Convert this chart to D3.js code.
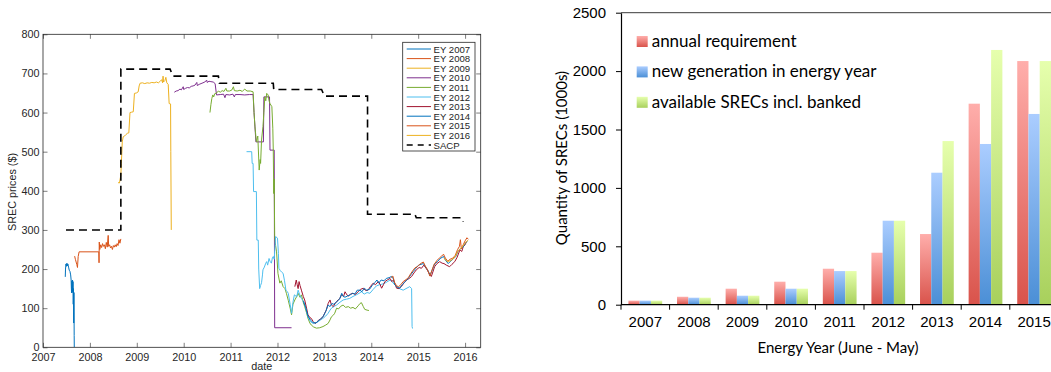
<!DOCTYPE html>
<html>
<head>
<meta charset="utf-8">
<script src="https://cdn.jsdelivr.net/npm/d3@7"></script>
<style>
  body { margin: 0; background: #fff; }
  svg { display: block; }
</style>
</head>
<body>
<svg id="chart" width="1051" height="372"></svg>
<script>
// ---- left panel: SREC prices per energy year, [decimal year, $] ----
const ey2007 = [[2007.475,180],[2007.48,200],[2007.49,213],[2007.50,207],[2007.51,215],[2007.52,208],[2007.53,213],[2007.545,205],[2007.56,197],[2007.575,194],[2007.59,185],[2007.60,172],[2007.605,150],[2007.61,139],[2007.615,170],[2007.625,145],[2007.63,172],[2007.635,140],[2007.64,168],[2007.645,110],[2007.65,150],[2007.655,62],[2007.66,140],[2007.665,30],[2007.667,0]];
const ey2008 = [[2007.675,233],[2007.69,225],[2007.72,212],[2007.735,204],[2007.75,232],[2007.77,244],[2008.19,244],[2008.195,216],[2008.20,269],[2008.21,250],[2008.23,262],[2008.25,255],[2008.27,265],[2008.29,258],[2008.31,262],[2008.33,252],[2008.35,268],[2008.37,256],[2008.39,286],[2008.40,258],[2008.42,262],[2008.44,254],[2008.46,258],[2008.48,250],[2008.50,260],[2008.52,256],[2008.54,262],[2008.56,257],[2008.58,265],[2008.60,260],[2008.62,275],[2008.64,266],[2008.66,277]];
const ey2009 = [[2008.60,421],[2008.63,420],[2008.66,440],[2008.67,470],[2008.68,495],[2008.69,525],[2008.71,538],[2008.74,540],[2008.77,544],[2008.80,547],[2008.83,548],[2008.855,600],[2008.89,601],[2008.925,602],[2008.95,649],[2008.99,650],[2009.03,653],[2009.05,668],[2009.07,675],[2009.12,676],[2009.17,674],[2009.22,676],[2009.27,675],[2009.32,677],[2009.37,676],[2009.42,678],[2009.46,676],[2009.50,680],[2009.53,684],[2009.55,676],[2009.56,693],[2009.57,678],[2009.60,682],[2009.62,690],[2009.64,676],[2009.67,672],[2009.69,623],[2009.72,622],[2009.725,500],[2009.735,300]];
const ey2010 = [[2009.80,652],[2009.84,655],[2009.88,656],[2009.92,660],[2009.95,658],[2009.99,666],[2010.00,659],[2010.04,662],[2010.08,664],[2010.12,663],[2010.16,667],[2010.20,668],[2010.24,670],[2010.28,677],[2010.29,669],[2010.33,672],[2010.37,674],[2010.41,676],[2010.45,678],[2010.49,683],[2010.50,677],[2010.54,680],[2010.58,679],[2010.63,678],[2010.67,674],[2010.70,645],[2010.78,646],[2010.85,647],[2010.88,638],[2010.90,646],[2010.98,645],[2011.05,647],[2011.08,640],[2011.10,646],[2011.20,646],[2011.30,645],[2011.40,646],[2011.48,646],[2011.50,600],[2011.54,525],[2011.70,525],[2011.71,640],[2011.83,640],[2011.84,504],[2011.93,504],[2011.94,50],[2012.30,50]];
const ey2011 = [[2010.56,600],[2010.58,620],[2010.60,636],[2010.62,645],[2010.64,640],[2010.66,648],[2010.70,650],[2010.74,655],[2010.78,652],[2010.82,656],[2010.86,654],[2010.90,662],[2010.92,655],[2010.98,655],[2011.03,658],[2011.06,666],[2011.08,656],[2011.14,655],[2011.20,657],[2011.25,654],[2011.30,660],[2011.35,655],[2011.42,655],[2011.48,653],[2011.50,600],[2011.52,564],[2011.55,525],[2011.58,540],[2011.61,453],[2011.63,480],[2011.64,470],[2011.66,530],[2011.69,564],[2011.71,600],[2011.73,640],[2011.75,630],[2011.77,649],[2011.80,645],[2011.82,630],[2011.84,623],[2011.88,615],[2011.90,560],[2011.91,504],[2011.92,393],[2011.93,430],[2011.94,283],[2011.96,260],[2011.98,244],[2012.01,189],[2012.05,164],[2012.08,170],[2012.12,155],[2012.16,150],[2012.19,138],[2012.23,120],[2012.27,100],[2012.30,83],[2012.33,110],[2012.37,121],[2012.41,130],[2012.44,138],[2012.48,128],[2012.51,134],[2012.55,115],[2012.58,104],[2012.62,88],[2012.65,74],[2012.69,62],[2012.72,57],[2012.77,52],[2012.83,49],[2012.90,50],[2012.97,53],[2013.03,57],[2013.08,61],[2013.12,70],[2013.15,78],[2013.19,82],[2013.22,87],[2013.26,100],[2013.30,98],[2013.35,105],[2013.40,108],[2013.45,102],[2013.51,104],[2013.56,100],[2013.61,102],[2013.66,98],[2013.72,106],[2013.76,112],[2013.79,114],[2013.83,104],[2013.86,97],[2013.91,95],[2013.95,94]];
const ey2012 = [[2011.34,500],[2011.45,500],[2011.46,470],[2011.48,470],[2011.49,398],[2011.55,398],[2011.56,274],[2011.59,274],[2011.60,200],[2011.62,150],[2011.64,158],[2011.66,165],[2011.68,185],[2011.69,198],[2011.72,205],[2011.75,215],[2011.77,219],[2011.79,210],[2011.82,227],[2011.84,220],[2011.87,215],[2011.89,228],[2011.91,232],[2011.93,225],[2011.96,283],[2012.00,279],[2012.02,240],[2012.03,202],[2012.06,196],[2012.09,192],[2012.12,189],[2012.15,170],[2012.18,146],[2012.21,142],[2012.23,138],[2012.27,110],[2012.30,87],[2012.33,115],[2012.36,134],[2012.41,129],[2012.44,146],[2012.48,132],[2012.51,125],[2012.55,118],[2012.58,112],[2012.62,92],[2012.65,78],[2012.70,66],[2012.76,61],[2012.82,63],[2012.87,66],[2012.92,70],[2012.97,74],[2013.03,80],[2013.08,87],[2013.12,95],[2013.15,100],[2013.20,104],[2013.26,108],[2013.33,115],[2013.40,121],[2013.47,123],[2013.54,125],[2013.61,130],[2013.68,134],[2013.74,138],[2013.79,142],[2013.85,136],[2013.91,140],[2013.97,138],[2014.04,148],[2014.11,157],[2014.18,160],[2014.25,162],[2014.32,166],[2014.40,172],[2014.46,165],[2014.54,155],[2014.60,150],[2014.68,146],[2014.74,150],[2014.82,155],[2014.86,150],[2014.87,53],[2014.88,48]];
const ey2013 = [[2012.37,155],[2012.40,172],[2012.42,160],[2012.44,150],[2012.46,168],[2012.48,158],[2012.51,146],[2012.55,130],[2012.58,121],[2012.62,100],[2012.65,83],[2012.69,76],[2012.72,74],[2012.76,66],[2012.80,61],[2012.84,64],[2012.88,70],[2012.92,72],[2012.97,78],[2013.01,88],[2013.04,95],[2013.08,112],[2013.12,121],[2013.15,108],[2013.19,104],[2013.23,112],[2013.26,117],[2013.30,122],[2013.33,125],[2013.37,135],[2013.41,130],[2013.44,142],[2013.48,134],[2013.51,131],[2013.56,136],[2013.61,138],[2013.66,135],[2013.72,142],[2013.77,148],[2013.83,151],[2013.88,145],[2013.93,146],[2013.98,155],[2014.04,164],[2014.09,160],[2014.15,168],[2014.19,160],[2014.22,151],[2014.26,160],[2014.29,168],[2014.34,172],[2014.40,176],[2014.44,168],[2014.47,172],[2014.51,160],[2014.54,151],[2014.59,150],[2014.64,155],[2014.70,165],[2014.75,172],[2014.81,176],[2014.86,181],[2014.91,190],[2014.96,198],[2015.02,204],[2015.07,202],[2015.12,210],[2015.18,200],[2015.23,190],[2015.28,181],[2015.32,195],[2015.35,206],[2015.40,214],[2015.46,219],[2015.51,215],[2015.55,214],[2015.60,210],[2015.67,206],[2015.72,212],[2015.78,219],[2015.83,230],[2015.89,249],[2015.93,245],[2015.96,257],[2016.00,262],[2016.03,270]];
const ey2014 = [[2012.55,118],[2012.60,102],[2012.65,80],[2012.70,70],[2012.76,63],[2012.82,62],[2012.88,68],[2012.93,74],[2012.98,80],[2013.03,92],[2013.08,108],[2013.12,104],[2013.16,112],[2013.20,110],[2013.25,115],[2013.30,120],[2013.33,125],[2013.37,138],[2013.40,130],[2013.44,128],[2013.49,131],[2013.55,134],[2013.60,138],[2013.65,136],[2013.70,146],[2013.76,146],[2013.80,142],[2013.85,151],[2013.90,146],[2013.96,148],[2014.02,158],[2014.08,166],[2014.12,172],[2014.16,164],[2014.21,172],[2014.27,170],[2014.32,176],[2014.38,178],[2014.43,181],[2014.47,175],[2014.50,160],[2014.54,155],[2014.60,151],[2014.66,160],[2014.72,168],[2014.79,176],[2014.84,185],[2014.89,193],[2014.95,202],[2015.01,210],[2015.06,212],[2015.11,214],[2015.16,205],[2015.21,196],[2015.25,183],[2015.30,198],[2015.35,213],[2015.41,219],[2015.47,227],[2015.54,232],[2015.58,223],[2015.64,214],[2015.69,220],[2015.75,226],[2015.80,232],[2015.86,248],[2015.90,252],[2015.95,255],[2016.00,265],[2016.05,272]];
const ey2015 = [[2014.42,178],[2014.46,182],[2014.50,165],[2014.54,157],[2014.58,155],[2014.63,160],[2014.68,168],[2014.74,173],[2014.79,178],[2014.84,188],[2014.88,195],[2014.93,203],[2014.98,206],[2015.03,212],[2015.08,216],[2015.11,218],[2015.15,208],[2015.20,198],[2015.25,182],[2015.29,196],[2015.34,212],[2015.40,222],[2015.45,228],[2015.50,233],[2015.54,238],[2015.58,228],[2015.63,220],[2015.68,225],[2015.74,228],[2015.79,235],[2015.84,250],[2015.88,258],[2015.90,275],[2015.92,252],[2015.96,262],[2016.00,272],[2016.04,280],[2016.07,276]];
const ey2016 = [[2015.55,228],[2015.62,219],[2015.70,222],[2015.78,230],[2015.85,246],[2015.92,254],[2016.00,266],[2016.06,274]];
const sacp = [[2007.49,300],[2008.66,300],[2008.66,711],[2009.71,711],[2009.77,693],[2010.74,693],[2010.76,675],[2011.91,675],[2011.92,659],[2012.94,659],[2013.00,642],[2013.92,642],[2013.92,340],[2014.93,340],[2014.96,331],[2015.93,331],[2015.96,321]];

const seriesNames = ["EY 2007","EY 2008","EY 2009","EY 2010","EY 2011","EY 2012","EY 2013","EY 2014","EY 2015","EY 2016"];
const seriesColors = ["#0072BD","#D95319","#EDB120","#7E2F8E","#77AC30","#4DBEEE","#A2142F","#0072BD","#D95319","#EDB120"];
const seriesValues = [ey2007, ey2008, ey2009, ey2010, ey2011, ey2012, ey2013, ey2014, ey2015, ey2016];
const yearTicks = [2007,2008,2009,2010,2011,2012,2013,2014,2015,2016];
const priceTicks = [0,100,200,300,400,500,600,700,800];

// ---- right panel: SREC quantities (1000s) ----
const energyYears = ["2007","2008","2009","2010","2011","2012","2013","2014","2015"];
const annualRequirement = [35,68,137,197,308,445,605,1721,2086];
const newGeneration = [35,60,77,137,288,719,1130,1376,1633];
const availableSRECs = [35,60,77,137,288,719,1401,2181,2086];
const barSeriesNames = ["annual requirement","new generation in energy year","available SRECs incl. banked"];
const quantityTicks = [0,500,1000,1500,2000,2500];

const svg = d3.select("#chart");
svg.append("rect").attr("width", 1051).attr("height", 372).attr("fill", "#fff");

// ================= left panel =================
const axisColor = "#262626";
const leftFont = "'Liberation Sans', Arial, Helvetica, sans-serif";
const x = d3.scaleLinear().domain([2007, 2016.333]).range([43, 480.7]);
const y = d3.scaleLinear().domain([0, 800]).range([347.3, 34.3]);

const left = svg.append("g").attr("font-family", leftFont);

svg.append("clipPath").attr("id", "plotClip")
  .append("rect").attr("x", 43).attr("y", 34.3).attr("width", 437.7).attr("height", 313);

const line = d3.line().x(d => x(d[0])).y(d => y(d[1]));
const lines = left.append("g").attr("clip-path", "url(#plotClip)");

seriesValues.forEach((vals, i) => {
  lines.append("path")
    .datum(vals)
    .attr("d", line)
    .attr("fill", "none")
    .attr("stroke", seriesColors[i])
    .attr("stroke-width", 1)
    .attr("stroke-linejoin", "round");
});

lines.append("path")
  .datum(sacp)
  .attr("d", line)
  .attr("fill", "none")
  .attr("stroke", "#000")
  .attr("stroke-width", 1.6)
  .attr("stroke-dasharray", "8,5");

// axes (MATLAB style: inward ticks on all four sides)
function styleAxis(g) {
  g.select(".domain").remove();
  g.selectAll(".tick line").attr("stroke", axisColor).attr("stroke-width", 0.6);
  g.selectAll(".tick text").attr("fill", axisColor).attr("font-size", 10.8);
}
left.append("g").attr("transform", "translate(0,347.3)")
  .call(d3.axisBottom(x).tickValues(yearTicks).tickFormat(d3.format("d")).tickSize(-4.5).tickPadding(6))
  .call(styleAxis);
left.append("g").attr("transform", "translate(0,34.3)")
  .call(d3.axisTop(x).tickValues(yearTicks).tickFormat("").tickSize(-4.5))
  .call(styleAxis);
left.append("g").attr("transform", "translate(43,0)")
  .call(d3.axisLeft(y).tickValues(priceTicks).tickSize(-4.5).tickPadding(3.5))
  .call(styleAxis);
left.append("g").attr("transform", "translate(480.7,0)")
  .call(d3.axisRight(y).tickValues(priceTicks).tickFormat("").tickSize(-4.5))
  .call(styleAxis);

left.append("rect")
  .attr("x", 43).attr("y", 34.3).attr("width", 437.7).attr("height", 313)
  .attr("fill", "none").attr("stroke", axisColor).attr("stroke-width", 0.8);

left.append("text")
  .attr("x", (x.range()[0] + x.range()[1]) / 2).attr("y", 370)
  .attr("text-anchor", "middle").attr("font-size", 10.8).attr("fill", axisColor)
  .text("date");
left.append("text")
  .attr("transform", "translate(16,192) rotate(-90)")
  .attr("text-anchor", "middle").attr("font-size", 10.8).attr("fill", axisColor)
  .text("SREC prices ($)");

// legend
const lg = left.append("g");
lg.append("rect")
  .attr("x", 402.7).attr("y", 42.3).attr("width", 72.3).attr("height", 108.7)
  .attr("fill", "#fff").attr("stroke", axisColor).attr("stroke-width", 0.8);
const legendNames = seriesNames.concat(["SACP"]);
legendNames.forEach((name, i) => {
  const ly = 49 + i * 9.6;
  const isSacp = name === "SACP";
  lg.append("line")
    .attr("x1", 406.7).attr("x2", 431).attr("y1", ly).attr("y2", ly)
    .attr("stroke", isSacp ? "#000" : seriesColors[i])
    .attr("stroke-width", isSacp ? 1.6 : 1)
    .attr("stroke-dasharray", isSacp ? "6,5" : null);
  lg.append("text")
    .attr("x", 433.5).attr("y", ly + 3.6)
    .attr("font-size", 9.6).attr("fill", axisColor)
    .text(name);
});

// ================= right panel =================
const rightFont = "Lato, 'Open Sans', sans-serif";
const right = svg.append("g").attr("font-family", rightFont);

const xBand = d3.scaleBand().domain(energyYears).range([621, 1058.4]).padding(0);
const xSub = d3.scaleBand().domain([0, 1, 2]).range([0, xBand.bandwidth()]).paddingInner(0).paddingOuter(0.66);
const yQ = d3.scaleLinear().domain([0, 2500]).range([304.7, 12.7]);

const gradStops = [
  ["#ffaeab", "#d9534b"],
  ["#abcdff", "#4b8fd6"],
  ["#e6ffad", "#a8d05c"]
];
const defs = svg.append("defs");
gradStops.forEach((s, i) => {
  const gr = defs.append("linearGradient").attr("id", "barGrad" + i)
    .attr("x1", 0).attr("y1", 0).attr("x2", 0).attr("y2", 1);
  gr.append("stop").attr("offset", "0%").attr("stop-color", s[0]);
  gr.append("stop").attr("offset", "100%").attr("stop-color", s[1]);
});

// plot area top border
right.append("line")
  .attr("x1", 621).attr("x2", 1051).attr("y1", yQ(2500)).attr("y2", yQ(2500))
  .attr("stroke", "#3a3a3a").attr("stroke-width", 1);

const barData = [annualRequirement, newGeneration, availableSRECs];
barData.forEach((vals, s) => {
  right.append("g").selectAll("rect")
    .data(vals)
    .join("rect")
    .attr("x", (d, i) => xBand(energyYears[i]) + xSub(s))
    .attr("width", xSub.bandwidth())
    .attr("y", d => yQ(d))
    .attr("height", d => yQ(0) - yQ(d))
    .attr("fill", "url(#barGrad" + s + ")");
});

// y axis
const yAx = right.append("g").attr("transform", "translate(621,0)")
  .call(d3.axisLeft(yQ).tickValues(quantityTicks).tickFormat(d3.format("d"))
    .tickSizeInner(5).tickSizeOuter(0).tickPadding(10));
yAx.select(".domain").attr("stroke", "#000").attr("stroke-width", 1.2);
yAx.selectAll(".tick line").attr("stroke", "#000");
yAx.selectAll(".tick text").attr("font-size", 15).attr("fill", "#000");

// x axis: labels centered in bands, ticks on band edges
const xAx = right.append("g").attr("transform", "translate(0,304.7)")
  .call(d3.axisBottom(xBand).tickSize(0).tickPadding(12));
xAx.select(".domain").remove();
xAx.selectAll(".tick text").attr("font-size", 15).attr("fill", "#000");
right.append("line")
  .attr("x1", 621).attr("x2", 1051).attr("y1", 304.7).attr("y2", 304.7)
  .attr("stroke", "#000").attr("stroke-width", 1.2);
right.append("g").selectAll("line")
  .data(energyYears.concat(["end"]))
  .join("line")
  .attr("x1", (d, i) => xBand.range()[0] + i * xBand.step())
  .attr("x2", (d, i) => xBand.range()[0] + i * xBand.step())
  .attr("y1", 304.7).attr("y2", 309.7)
  .attr("stroke", "#000");

right.append("text")
  .attr("transform", "translate(567,158) rotate(-90)")
  .attr("text-anchor", "middle").attr("font-size", 15).attr("fill", "#000")
  .text("Quantity of SRECs (1000s)");
right.append("text")
  .attr("x", 838).attr("y", 353)
  .attr("text-anchor", "middle").attr("font-size", 15).attr("fill", "#000")
  .text("Energy Year (June - May)");

// legend
barSeriesNames.forEach((name, i) => {
  const top = 36 + i * 30.4;
  right.append("rect")
    .attr("x", 636.7).attr("y", top).attr("width", 11).attr("height", 11)
    .attr("fill", "url(#barGrad" + i + ")");
  right.append("text")
    .attr("x", 651.7).attr("y", top + 11)
    .attr("font-size", 17).attr("fill", "#000")
    .text(name);
});
</script>
</body>
</html>
